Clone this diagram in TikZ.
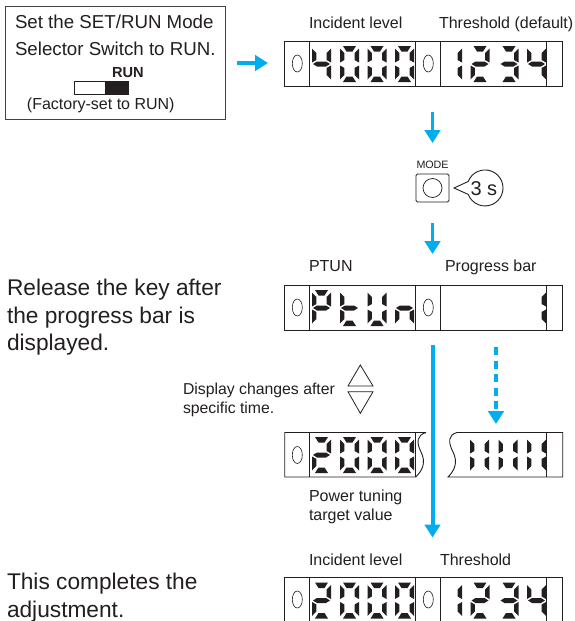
\documentclass[tikz,border=0pt]{standalone}
\usepackage{fontspec}
\setmainfont{Liberation Sans}
\usetikzlibrary{arrows.meta}
\definecolor{ink}{HTML}{231F20}
\definecolor{flow}{HTML}{00AEEF}
\def\sega{(3,0) -- (16,0) -- (12.5,5.5) -- (6.5,5.5) -- cycle}
\def\segb{(19,2.5) -- (14.6,7) -- (14.6,14) -- (19,16.5) -- cycle}
\def\segc{(19,19.5) -- (14.6,22) -- (14.6,29) -- (19,33.5) -- cycle}
\def\segd{(3,36) -- (16,36) -- (12.5,30.5) -- (6.5,30.5) -- cycle}
\def\sege{(0,19.5) -- (4.4,22) -- (4.4,29) -- (0,33.5) -- cycle}
\def\segf{(0,2.5) -- (4.4,7) -- (4.4,14) -- (0,16.5) -- cycle}
\def\segg{(1,18) -- (5,15.5) -- (14,15.5) -- (18,18) -- (14,20.5) -- (5,20.5) -- cycle}
\newcommand\lcddigit[3]{\begin{scope}[shift={(#1,#2)}]
  \foreach \s in {#3}{\fill[ink] \csname seg\s\endcsname;}
\end{scope}}
\tikzset{
  x=1pt,y=-1pt,
  panelline/.style={draw=ink,line width=0.9pt,line join=miter},
  lamp/.style={draw=ink,line width=0.6pt},
  label/.style={anchor=base west,inner sep=0pt,outer sep=0pt,text=ink,font=\fontsize{16}{18}\selectfont},
  big/.style={label,font=\fontsize{22.7}{24}\selectfont},
  boxtext/.style={label,font=\fontsize{18.7}{20}\selectfont},
  flowarrow/.style={draw=flow,line width=3.6pt,-{Triangle[width=15.5pt,length=13pt]}},
  flowdash/.style={flowarrow,dash pattern=on 8pt off 5.5pt},
}
\begin{document}
\begin{tikzpicture}
\useasboundingbox (0,0) rectangle (574,621);
\fill[white] (0,0) rectangle (574,621);

% instruction box
\node[draw=ink!85,line width=0.9pt,minimum width=220pt,minimum height=113.5pt,anchor=north west,inner sep=0pt] (box) at (5,5.5) {};
\node[boxtext] (t1) at (15,28) {Set the SET/RUN Mode};
\node[boxtext] (t2) at (15,55) {Selector Switch to RUN.};
\node[label,font=\bfseries\fontsize{14.6}{16}\selectfont] (t3) at (112,77) {RUN};
\draw[ink,line width=0.8pt] (74,81.5) rectangle (128,94);
\fill[ink] (105,81.5) rectangle (128,94);
\node[label] (t4) at (27,109) {(Factory-set to RUN)};

% top display
\node[label] (l1) at (309,28) {Incident level};
\node[label] (l2) at (439,28) {Threshold (default)};
\draw[panelline] (284.7,41) rectangle (562.7,86);
\foreach \x in {309.3,415.7,440,546.7} \draw[panelline] (\x,41) -- (\x,86);
\draw[lamp] (297.3,63.5) ellipse [x radius=5,y radius=8.5];
\draw[lamp] (428.3,63.5) ellipse [x radius=5,y radius=8.5];
\lcddigit{312}{46}{f,g,b,c}
\lcddigit{340}{46}{a,b,c,d,e,f}
\lcddigit{367.5}{46}{a,b,c,d,e,f}
\lcddigit{395}{46}{a,b,c,d,e,f}
\lcddigit{443}{46}{b,c}
\lcddigit{470.5}{46}{a,b,g,e,d}
\lcddigit{499.5}{46}{a,b,g,c,d}
\lcddigit{527}{46}{f,g,b,c}

% mode key
\node[label,font=\fontsize{10.7}{12}\selectfont] (mode) at (416.5,168) {MODE};
\node[draw=ink,line width=0.9pt,rounded corners=1.5pt,minimum width=33pt,minimum height=28pt,inner sep=0pt] (key) at (432.5,188) {};
\node[draw=ink,line width=0.7pt,circle,minimum size=19pt,inner sep=0pt] (keyc) at (432.5,188) {};
\draw[ink,line width=0.9pt,line join=miter] (454,188) -- (468.2,181.5) arc[start angle=201,end angle=519,radius=18] -- cycle;
\node[label,font=\fontsize{20}{22}\selectfont] (secs) at (470.5,195) {3 s};

% PTUN display
\node[label] (l3) at (309,271) {PTUN};
\node[label] (l4) at (445,271) {Progress bar};
\draw[panelline] (284.7,285) rectangle (562.7,330);
\foreach \x in {309.3,415.7,440,546.7} \draw[panelline] (\x,285) -- (\x,330);
\draw[lamp] (297.3,307.5) ellipse [x radius=5,y radius=8.5];
\draw[lamp] (428.3,307.5) ellipse [x radius=5,y radius=8.5];
\lcddigit{312}{290}{a,b,g,e,f}
\lcddigit{340}{290}{f,e,g,d}
\lcddigit{367.5}{290}{f,b,e,c,d}
\lcddigit{395}{290}{g,e,c}
\lcddigit{527}{290}{b,c}

\node[big] (r1) at (7,295) {Release the key after};
\node[big] (r2) at (7,323) {the progress bar is};
\node[big] (r3) at (7,350) {displayed.};

% up/down keys
\node[label,font=\fontsize{15.8}{18}\selectfont] (d1) at (183,394) {Display changes after};
\node[label,font=\fontsize{15.8}{18}\selectfont] (d2) at (183,413) {specific time.};
\draw[ink,line width=0.8pt,line join=miter] (360.3,365) -- (373,386) -- (348,386) -- cycle;
\draw[ink,line width=0.8pt,line join=miter] (360.3,413.3) -- (373,391.7) -- (348,391.7) -- cycle;

% cut displays
\draw[panelline] (426,432.5) -- (284.7,432.5) -- (284.7,477) -- (415.7,477)
  .. controls (423,470) and (426,462) .. (421,452)
  .. controls (416,442) and (417,435) .. (426,432.5);
\draw[panelline] (309.3,432.5) -- (309.3,477);
\draw[panelline] (415.7,432.5) -- (415.7,477);
\draw[lamp] (297.3,455) ellipse [x radius=5,y radius=8.5];
\lcddigit{312}{437}{a,b,g,e,d}
\lcddigit{340}{437}{a,b,c,d,e,f}
\lcddigit{367.5}{437}{a,b,c,d,e,f}
\lcddigit{395}{437}{a,b,c,d,e,f}
\draw[panelline] (457,432.5) -- (562.7,432.5) -- (562.7,477) -- (448,477)
  .. controls (455,470) and (458,462) .. (453,452)
  .. controls (448,442) and (448,435) .. (457,432.5);
\draw[panelline] (546.7,432.5) -- (546.7,477);
\lcddigit{470}{437}{e,f,b,c}
\lcddigit{498.5}{437}{e,f,b,c}
\lcddigit{527}{437}{e,f,b,c}

\node[label] (p1) at (309,501.7) {Power tuning};
\node[label] (p2) at (309,520) {target value};

% bottom display
\node[label] (l5) at (309,565) {Incident level};
\node[label] (l6) at (440,565) {Threshold};
\draw[panelline] (284.7,621) -- (284.7,577) -- (562.7,577) -- (562.7,621);
\foreach \x in {309.3,415.7,440,546.7} \draw[panelline] (\x,577) -- (\x,621);
\draw[lamp] (297.3,599.5) ellipse [x radius=5,y radius=8.5];
\draw[lamp] (428.3,599.5) ellipse [x radius=5,y radius=8.5];
\lcddigit{312}{582.5}{a,b,g,e,d}
\lcddigit{340}{582.5}{a,b,c,d,e,f}
\lcddigit{367.5}{582.5}{a,b,c,d,e,f}
\lcddigit{395}{582.5}{a,b,c,d,e,f}
\lcddigit{443}{582.5}{b,c}
\lcddigit{470.5}{582.5}{a,b,g,e,d}
\lcddigit{499.5}{582.5}{a,b,g,c,d}
\lcddigit{527}{582.5}{f,g,b,c}

\node[big] (e1) at (7,589) {This completes the};
\node[big] (e2) at (7,617) {adjustment.};

% flow arrows
\coordinate (a1s) at (237,63); \coordinate (a1e) at (268,63);
\coordinate (a2s) at (432.5,112); \coordinate (a2e) at (432.5,143);
\coordinate (a3s) at (432.5,223); \coordinate (a3e) at (432.5,254);
\coordinate (a4s) at (432.5,345); \coordinate (a4e) at (432.5,537.5);
\coordinate (a5s) at (496,347.3); \coordinate (a5e) at (496,424);
\draw[flowarrow] (a1s) -- (a1e);
\draw[flowarrow] (a2s) -- (a2e);
\draw[flowarrow] (a3s) -- (a3e);
\draw[flowarrow,line width=4pt] (a4s) -- (a4e);
\draw[flowdash,line width=4pt] (a5s) -- (a5e);
\end{tikzpicture}
\end{document}
